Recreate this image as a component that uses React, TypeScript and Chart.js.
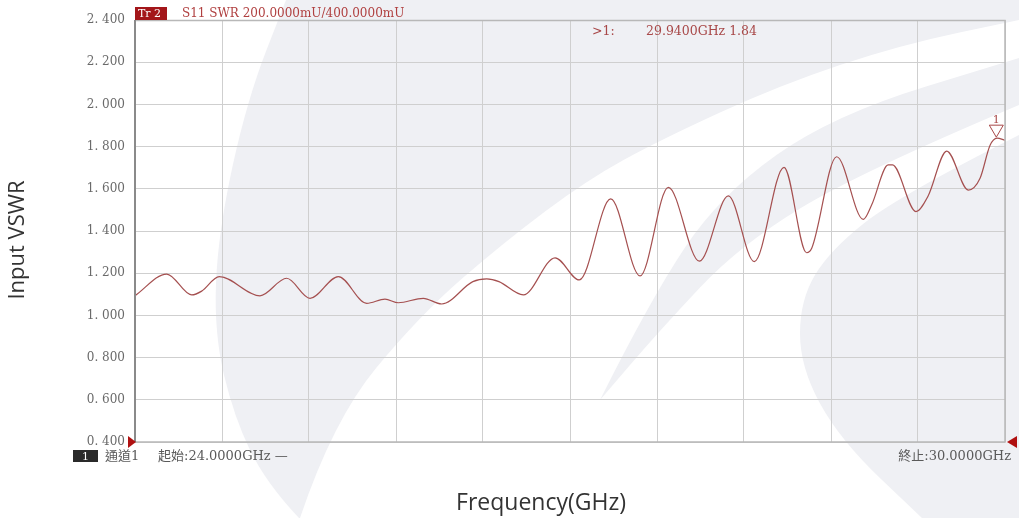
import React, { useEffect, useRef } from "react";
import { Chart, registerables } from "chart.js";

Chart.register(...registerables);

const freqGHz = [
  24.0, 24.219, 24.391, 24.46, 24.581, 24.862, 25.046, 25.207, 25.402, 25.598,
  25.724, 25.816, 25.988, 26.115, 26.33, 26.426, 26.51, 26.678, 26.897, 27.064,
  27.281, 27.483, 27.678, 27.892, 28.092, 28.271, 28.476, 28.632, 28.667, 28.839,
  29.023, 29.08, 29.195, 29.224, 29.386, 29.469, 29.598, 29.747, 29.828, 29.897,
  29.945, 30.0,
];
const vswrValues = [
  1.093, 1.196, 1.097, 1.115, 1.184, 1.093, 1.176, 1.081, 1.184, 1.057,
  1.077, 1.06, 1.081, 1.054, 1.16, 1.173, 1.16, 1.097, 1.273, 1.168,
  1.552, 1.187, 1.607, 1.257, 1.566, 1.255, 1.702, 1.297, 1.318, 1.752,
  1.455, 1.523, 1.713, 1.713, 1.492, 1.565, 1.779, 1.594, 1.65, 1.806,
  1.84, 1.83,
];
const yTicks = [0.4, 0.6, 0.8, 1.0, 1.2, 1.4, 1.6, 1.8, 2.0, 2.2, 2.4];

const headerTag = "Tr 2";
const headerText = "S11 SWR 200.0000mU/400.0000mU";
const markerLabel = ">1:";
const markerReadout = "29.9400GHz 1.84";
const markerFreq = 29.94;
const markerValue = 1.84;
const channelTag = "1";
const channelText = "通道1";
const startText = "起始:24.0000GHz —";
const stopText = "終止:30.0000GHz";
const xTitle = "Frequency(GHz)";
const yTitle = "Input VSWR";

const fmt = (v: number) => v.toFixed(3).replace(".", ". ");

const smoothPath = (ctx: any, pts: number[][], move = true) => {
  if (move) ctx.moveTo(pts[0][0], pts[0][1]);
  else ctx.lineTo(pts[0][0], pts[0][1]);
  for (let i = 1; i < pts.length - 1; i++) {
    const mx = (pts[i][0] + pts[i + 1][0]) / 2;
    const my = (pts[i][1] + pts[i + 1][1]) / 2;
    ctx.quadraticCurveTo(pts[i][0], pts[i][1], mx, my);
  }
  const last = pts[pts.length - 1];
  ctx.lineTo(last[0], last[1]);
};

const rev = (p: number[][]) => p.slice().reverse();

const wmLeftEdge = [[299, 518], [266, 483], [234, 417], [214, 333], [218, 233], [247, 100], [286, 0]];
const wmCurve1 = [[300, 518], [333, 420], [420, 315], [503, 243], [587, 180], [660, 140], [780, 85], [900, 45], [1019, 20]];
const wmCurve2 = [[922, 518], [840, 440], [800, 367], [800, 300], [830, 250], [900, 195], [1019, 135]];
const wmStripeTop = [[600, 400], [650, 300], [720, 195], [833, 115], [1019, 58]];
const wmStripeBottom = [[1019, 105], [860, 172], [740, 245], [660, 330], [600, 400]];

const watermark = (ctx: any) => {
  const gray = "#eff0f4";
  ctx.save();
  ctx.fillStyle = gray;
  ctx.beginPath();
  smoothPath(ctx, wmLeftEdge);
  ctx.lineTo(1019, 0);
  ctx.lineTo(1019, 518);
  ctx.closePath();
  ctx.fill();
  // white crescent between curve 1 and curve 2
  ctx.fillStyle = "#ffffff";
  ctx.beginPath();
  smoothPath(ctx, wmCurve1);
  smoothPath(ctx, rev(wmCurve2), false);
  ctx.closePath();
  ctx.fill();
  // gray stripe inside the white crescent
  ctx.fillStyle = gray;
  ctx.beginPath();
  smoothPath(ctx, wmStripeTop);
  smoothPath(ctx, wmStripeBottom, false);
  ctx.closePath();
  ctx.fill();
  ctx.restore();
};

const overlay = {
  id: "overlay",
  beforeDraw(chart: any) {
    const { ctx, width, height } = chart;
    ctx.save();
    ctx.fillStyle = "#ffffff";
    ctx.fillRect(0, 0, width, height);
    ctx.restore();
    watermark(ctx);
  },
  afterDraw(chart: any) {
    const { ctx, chartArea } = chart;
    const { left, right, top, bottom } = chartArea;
    const xs = chart.scales.x;
    const ys = chart.scales.y;
    ctx.save();
    // frame
    ctx.strokeStyle = "#b8b8b8";
    ctx.lineWidth = 1.5;
    ctx.beginPath();
    ctx.moveTo(left, top + 0.5);
    ctx.lineTo(right, top + 0.5);
    ctx.lineTo(right, bottom);
    ctx.lineTo(left, bottom);
    ctx.stroke();
    ctx.strokeStyle = "#8a8a8a";
    ctx.lineWidth = 2;
    ctx.beginPath();
    ctx.moveTo(left, top);
    ctx.lineTo(left, bottom);
    ctx.stroke();

    // header
    ctx.fillStyle = "#a3161a";
    ctx.fillRect(left, top - 13, 32, 13);
    ctx.font = "11px 'DejaVu Serif'";
    ctx.textBaseline = "alphabetic";
    ctx.textAlign = "left";
    ctx.fillStyle = "#ffffff";
    ctx.fillText(headerTag, left + 3, top - 3);
    ctx.fillStyle = "#b04040";
    ctx.font = "12px 'DejaVu Serif'";
    ctx.fillText(headerText, left + 47, top - 3);

    // marker readout
    ctx.fillStyle = "#a84848";
    ctx.font = "12.5px 'DejaVu Serif'";
    ctx.fillText(markerLabel, 592, top + 15);
    ctx.fillText(markerReadout, 646, top + 15);

    // marker triangle
    const mx = xs.getPixelForValue(markerFreq);
    const my = ys.getPixelForValue(markerValue);
    ctx.strokeStyle = "#a84848";
    ctx.lineWidth = 1;
    ctx.beginPath();
    ctx.moveTo(mx - 7, my - 13);
    ctx.lineTo(mx + 7, my - 13);
    ctx.lineTo(mx, my - 1);
    ctx.closePath();
    ctx.stroke();
    ctx.fillStyle = "#a84848";
    ctx.font = "11px 'DejaVu Serif'";
    ctx.textAlign = "center";
    ctx.fillText("1", mx, my - 15);

    // red edge triangles
    ctx.fillStyle = "#b01010";
    ctx.beginPath();
    ctx.moveTo(left - 7, bottom - 6);
    ctx.lineTo(left + 1, bottom);
    ctx.lineTo(left - 7, bottom + 6);
    ctx.closePath();
    ctx.fill();
    ctx.beginPath();
    ctx.moveTo(right + 12, bottom - 6);
    ctx.lineTo(right + 2, bottom);
    ctx.lineTo(right + 12, bottom + 6);
    ctx.closePath();
    ctx.fill();

    // bottom status line
    ctx.fillStyle = "#2a2a2a";
    ctx.fillRect(73, bottom + 8, 25, 12);
    ctx.fillStyle = "#ffffff";
    ctx.font = "11px 'DejaVu Serif'";
    ctx.textAlign = "center";
    ctx.fillText(channelTag, 85.5, bottom + 18);
    ctx.fillStyle = "#5a5a5a";
    ctx.textAlign = "left";
    ctx.font = "13px 'DejaVu Serif', 'Noto Sans CJK TC'";
    ctx.fillText(channelText, 105, bottom + 18);
    ctx.fillText(startText, 158, bottom + 18);
    ctx.textAlign = "right";
    ctx.fillText(stopText, 1011, bottom + 18);

    // axis titles
    ctx.fillStyle = "#333333";
    ctx.textAlign = "center";
    ctx.textBaseline = "middle";
    ctx.font = "23px 'Open Sans'";
    ctx.fillText(xTitle, 541, 503);
    ctx.font = "22px 'Open Sans'";
    ctx.translate(18, 240);
    ctx.rotate(-Math.PI / 2);
    ctx.fillText(yTitle, 0, 0);
    ctx.restore();
  },
};

export default function App() {
  const ref = useRef<HTMLCanvasElement | null>(null);
  useEffect(() => {
    if (!ref.current) return;
    const chart = new Chart(ref.current, {
      type: "line",
      data: {
        datasets: [
          {
            data: freqGHz.map((f, i) => ({ x: f, y: vswrValues[i] })),
            borderColor: "rgb(165,80,80)",
            borderWidth: 1.2,
            pointRadius: 0,
            cubicInterpolationMode: "monotone",
            fill: false,
          },
        ],
      },
      options: {
        animation: false,
        responsive: false,
        maintainAspectRatio: false,
        layout: { padding: { left: 0, top: 20, right: 14, bottom: 76 } },
        plugins: { legend: { display: false }, tooltip: { enabled: false } },
        scales: {
          x: {
            type: "linear",
            min: 24,
            max: 30,
            ticks: { display: false, stepSize: 0.6 },
            grid: { color: "#cfcfcf", lineWidth: 1, drawTicks: false },
            border: { display: false },
            afterFit: (s: any) => {
              s.height = 0;
            },
          },
          y: {
            min: 0.4,
            max: 2.4,
            afterBuildTicks: (s: any) => {
              s.ticks = yTicks.map((v) => ({ value: v }));
            },
            ticks: {
              callback: (v: any) => fmt(Number(v)),
              color: "#6a6a6a",
              font: { family: "'DejaVu Serif'", size: 12 },
              padding: 10,
            },
            grid: { color: "#cfcfcf", lineWidth: 1, drawTicks: false },
            border: { display: false },
            afterFit: (s: any) => {
              s.width = 135;
            },
          },
        },
      },
      plugins: [overlay],
    });
    return () => chart.destroy();
  }, []);
  return (
    <div style={{ position: "fixed", left: 0, top: 0, width: 1019, height: 518 }}>
      <canvas ref={ref} width={1019} height={518} style={{ display: "block" }} />
    </div>
  );
}
